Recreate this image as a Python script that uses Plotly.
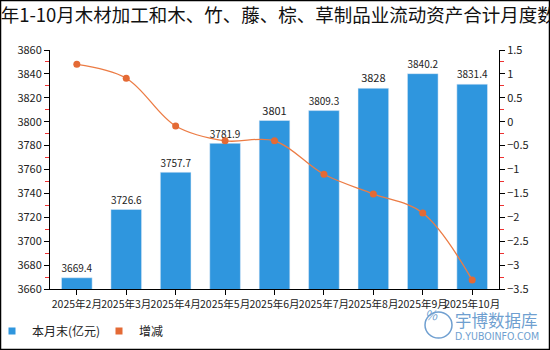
import plotly.graph_objects as go

months = ["2025年2月", "2025年3月", "2025年4月", "2025年5月", "2025年6月",
          "2025年7月", "2025年8月", "2025年9月", "2025年10月"]
values = [3669.4, 3726.6, 3757.7, 3781.9, 3801, 3809.3, 3828, 3840.2, 3831.4]
changes = [1.20, 0.91, -0.09, -0.40, -0.40, -1.10, -1.51, -1.91, -3.31]

title_text = "2025年1-10月木材加工和木、竹、藤、棕、草制品业流动资产合计月度数据统计"
bar_name = "本月末(亿元)"
line_name = "增减"

BLUE = "#2f96de"
ORANGE = "#ec7c45"
MARK = "#e46a35"
FONT = "Noto Sans CJK SC"

fig = go.Figure()
fig.add_trace(go.Bar(
    x=months, y=values, name=bar_name, marker_color=BLUE,
    text=[f"{v:g}" for v in values], textposition="outside",
    textfont=dict(size=11, color="#222"), cliponaxis=False,
    showlegend=False,
))
fig.add_trace(go.Scatter(
    x=months, y=changes, name=line_name, yaxis="y2", mode="lines+markers",
    line=dict(color=ORANGE, width=1.3, shape="spline", smoothing=1.0),
    marker=dict(color=MARK, size=7), showlegend=False,
))
# legend entries (square swatches)
fig.add_trace(go.Scatter(x=[None], y=[None], mode="markers", name=bar_name,
                         marker=dict(symbol="square", color=BLUE, size=7)))
fig.add_trace(go.Scatter(x=[None], y=[None], mode="markers", name=line_name,
                         marker=dict(symbol="square", color=MARK, size=7)))

L, R, T, B = 50, 51, 50, 61
W, H = 550, 350
pw, ph = W - L - R, H - T - B

fig.update_layout(
    width=W, height=H, margin=dict(l=L, r=R, t=T, b=B, autoexpand=False),
    paper_bgcolor="white", plot_bgcolor="white",
    font=dict(family=FONT, size=11, color="#222"),
    title=dict(text=title_text, x=0.519, xanchor="center", y=1 - 16 / H, yanchor="middle",
               font=dict(size=18.5, color="#111")),
    bargap=0.38,
    showlegend=True,
    legend=dict(orientation="h", x=-(L + 8) / pw, xanchor="left", y=-(331 - (T + ph)) / ph,
                yanchor="middle", font=dict(size=12, color="#222"),
                itemwidth=30, entrywidth=62, entrywidthmode="pixels",
                tracegroupgap=0, bgcolor="rgba(0,0,0,0)"),
    xaxis=dict(showline=True, linecolor="black", linewidth=1, ticks="outside",
               ticklen=5, tickcolor="black", tickfont=dict(size=10.5), showgrid=False,
               tickangle=0, automargin=False),
    yaxis=dict(range=[3660, 3860], dtick=20, showline=True, linecolor="black",
               linewidth=1, ticks="outside", ticklen=5, tickcolor="black",
               showgrid=False, zeroline=False, tickfont=dict(size=11), automargin=False,
               minor=dict(dtick=10, ticks="outside", ticklen=4, tickcolor="#e33", showgrid=False)),
    yaxis2=dict(range=[-3.5, 1.5], dtick=0.5, overlaying="y", side="right",
                showline=True, linecolor="black", linewidth=1, ticks="outside",
                ticklen=5, tickcolor="black", showgrid=False, zeroline=False,
                tickfont=dict(size=11), automargin=False,
                minor=dict(dtick=0.25, ticks="outside", ticklen=4, tickcolor="#e33", showgrid=False)),
)

# outer border
fig.add_shape(type="rect", xref="paper", yref="paper",
              x0=(0.5 - L) / pw, x1=(W - 0.5 - L) / pw,
              y0=-(B - 0.5) / ph, y1=(H - 0.5 - B) / ph,
              line=dict(color="black", width=1.5), fillcolor="rgba(0,0,0,0)", layer="above")

# watermark
WM = "#6f9fd0"
def px(x):
    return (x - L) / pw
def py(y):
    return (T + ph - y) / ph

fig.add_shape(type="circle", xref="paper", yref="paper",
              x0=px(425), x1=px(452), y0=py(338), y1=py(312),
              line=dict(color=WM, width=1.5))
fig.add_annotation(text="<i>%</i>", xref="paper", yref="paper", showarrow=False,
                   x=px(438.5), y=py(325), borderpad=0, font=dict(size=13, color=WM))
fig.add_annotation(text="宇博数据库", xref="paper", yref="paper", showarrow=False,
                   x=px(454), xanchor="left", y=py(320), yanchor="middle", borderpad=0,
                   font=dict(size=16.5, color=WM))
fig.add_annotation(text="D.YUBOINFO.COM", xref="paper", yref="paper", showarrow=False,
                   x=px(454), xanchor="left", y=py(336), yanchor="middle", borderpad=0,
                   font=dict(size=10.5, color=WM, family="DejaVu Sans Condensed, Noto Sans"))

fig.write_html("out.html")
